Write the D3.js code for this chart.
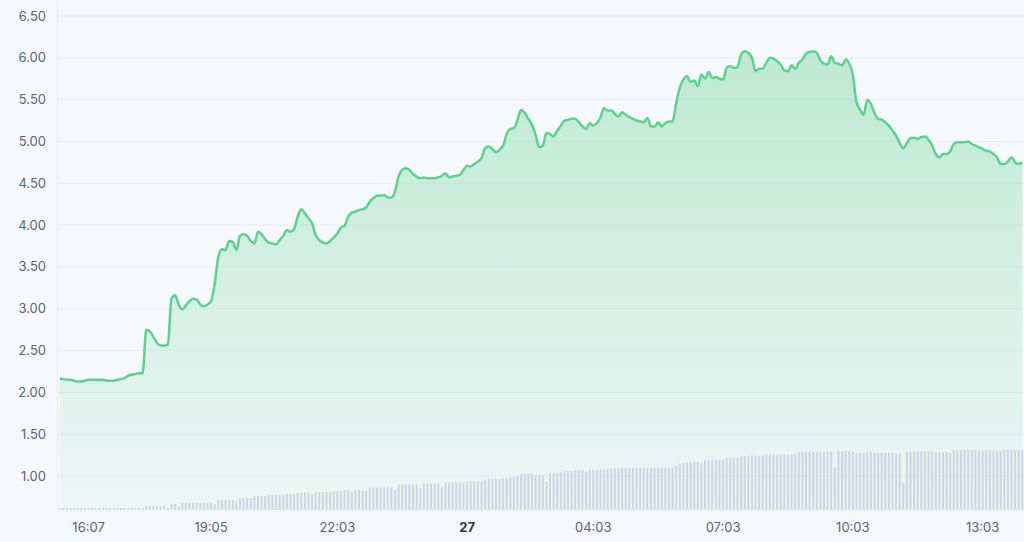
<!DOCTYPE html>
<html>
<head>
<meta charset="utf-8">
<script src="https://cdn.jsdelivr.net/npm/d3@7"></script>
<style>
  html, body { margin: 0; padding: 0; background: #f5f8fc; }
  svg { display: block; font-family: Inter, "Noto Sans", sans-serif; }
</style>
</head>
<body>
<svg id="chart" width="1024" height="542"></svg>
<script>
// ---------- DATA ----------
const yTicks = [1.0, 1.5, 2.0, 2.5, 3.0, 3.5, 4.0, 4.5, 5.0, 5.5, 6.0, 6.5];
const xTickIndex = [8, 42, 77, 113, 148, 184, 220, 256];
const xTickLabels = ["16:07", "19:05", "22:03", "27", "04:03", "07:03", "10:03", "13:03"];
const xTickBold = [false, false, false, true, false, false, false, false];

const price = [
  2.16,2.16,2.15,2.15,2.14,2.13,2.13,2.14,2.15,2.15,
  2.15,2.15,2.15,2.14,2.14,2.14,2.15,2.16,2.17,2.20,
  2.21,2.22,2.23,2.23,2.75,2.73,2.66,2.59,2.56,2.56,
  2.57,3.12,3.16,3.05,2.99,3.04,3.09,3.12,3.11,3.05,
  3.03,3.05,3.09,3.30,3.62,3.71,3.70,3.81,3.80,3.70,
  3.87,3.89,3.87,3.81,3.78,3.92,3.89,3.83,3.79,3.78,
  3.77,3.82,3.87,3.94,3.92,3.95,4.10,4.19,4.14,4.08,
  4.02,3.88,3.82,3.79,3.78,3.81,3.85,3.90,3.97,3.99,
  4.10,4.15,4.16,4.18,4.19,4.21,4.28,4.32,4.35,4.35,
  4.36,4.33,4.33,4.40,4.58,4.66,4.68,4.66,4.61,4.58,
  4.56,4.57,4.56,4.56,4.56,4.57,4.59,4.62,4.57,4.58,
  4.59,4.60,4.66,4.71,4.70,4.73,4.76,4.80,4.92,4.94,
  4.91,4.87,4.90,4.95,5.09,5.15,5.16,5.26,5.38,5.34,
  5.27,5.20,5.08,4.93,4.95,5.10,5.09,5.06,5.13,5.19,
  5.25,5.26,5.27,5.27,5.23,5.18,5.15,5.22,5.19,5.22,
  5.29,5.40,5.37,5.37,5.33,5.30,5.35,5.32,5.29,5.27,
  5.25,5.24,5.23,5.28,5.18,5.18,5.23,5.18,5.22,5.24,
  5.24,5.46,5.64,5.74,5.78,5.71,5.73,5.66,5.80,5.75,
  5.83,5.76,5.77,5.75,5.74,5.88,5.90,5.88,5.89,6.04,
  6.08,6.06,6.00,5.84,5.87,5.87,5.94,6.00,5.99,5.96,
  5.92,5.85,5.84,5.91,5.87,5.94,5.98,6.05,6.07,6.08,
  6.06,5.97,5.93,5.92,6.02,5.94,5.93,5.91,5.98,5.93,
  5.80,5.47,5.38,5.32,5.50,5.45,5.34,5.27,5.26,5.23,
  5.19,5.13,5.07,4.98,4.92,4.98,5.04,5.04,5.03,5.05,
  5.06,5.02,4.95,4.85,4.81,4.85,4.85,4.88,4.97,4.99,
  4.99,4.99,5.00,4.97,4.95,4.93,4.91,4.89,4.88,4.85,
  4.81,4.73,4.73,4.76,4.81,4.75,4.73,4.75
];

const volume = [
  2,2,2,2,2,2,2,2,2,2,
  2,2,2,2,2,2,2,2,2,2,
  2,2,2,2,4,4,4,4,4,4,
  2,6,6,3,7,7,7,7,7,7,
  7,7,7,6,10,10,10,10,10,9,
  12,12,12,12,14,14,14,14,15,15,
  15,15,15,16,16,16,17,17.5,17.5,17.5,
  16,18,18,18,18,18,19,19,19.5,20,
  20,18,20,20,19.5,19,22.5,22.5,22.5,22.5,
  22.5,22.5,22.5,20,25.5,25.5,25.5,25.5,25.5,25.5,
  22,26.3,26.3,26.3,26.3,26.3,23,27.7,27.7,27.7,
  27.7,27.7,27.7,28.5,29,29,29,29,30.5,31,
  31,31,31,31.5,31.5,33,33,34,36,36,
  36,36,35,35,35,28,37,36.5,37,37.5,
  38.5,39,39,40,40,40,38.5,40,40,40,
  40.5,40.5,41.5,41.5,41.5,41.5,42,42,42,42,
  42,42,42,42,42,42,42,42,42,42,
  42,44.5,46.5,46.5,47,48,48,48.5,47,49.5,
  49.5,50,50,50,50,52,52,52,52,53.5,
  54,54,54.5,54.5,54,54.5,55.5,55.5,55.5,55.5,
  55.5,55.5,55.5,55.5,55.5,58,58,58,58,58,
  58,58,58,58,58.5,43,59,59,59.5,59,
  58.5,56.5,57,56.5,58.5,58.5,57,57,57,57,
  57,57,56.5,56.5,27,58,58.5,58.5,58,58.5,
  59,58.5,58.5,57.5,57.5,58,58,57,60,60,
  60,60,60.5,60,60,60,59.5,60,60,60,
  59.5,59.5,60,60,60.5,60,60,60
];

// ---------- CHART ----------
const W = 1024, H = 542;
const plot = { left: 58, right: 1024, top: 0, bottom: 510 };
const svg = d3.select("#chart");

svg.append("rect").attr("width", W).attr("height", H).attr("fill", "#f5f8fc");

const idx = d3.range(price.length);
const x = d3.scaleBand().domain(idx).range([plot.left, plot.right]).paddingInner(0.45).paddingOuter(0.2);
const cx = i => x(i) + x.bandwidth() / 2;
const y = d3.scaleLinear().domain([1, 6.5]).range([476, 16]);
const yVol = d3.scaleLinear().domain([0, 60]).range([plot.bottom, 450]);

// grid lines
const grid = svg.append("g");
grid.selectAll("line.h").data(yTicks).join("line")
  .attr("x1", plot.left).attr("x2", plot.right)
  .attr("y1", d => y(d)).attr("y2", d => y(d))
  .attr("stroke", "#e9edf3").attr("stroke-width", 1);
grid.append("line")
  .attr("x1", plot.left - 0.5).attr("x2", plot.left - 0.5)
  .attr("y1", plot.top).attr("y2", plot.bottom)
  .attr("stroke", "#e9edf3");

// gradient for area
const defs = svg.append("defs");
const grad = defs.append("linearGradient").attr("id", "areaGrad")
  .attr("gradientUnits", "userSpaceOnUse")
  .attr("x1", 0).attr("x2", 0).attr("y1", y(6.1)).attr("y2", plot.bottom);
grad.append("stop").attr("offset", "0%").attr("stop-color", "#5ccf88").attr("stop-opacity", 0.36);
grad.append("stop").attr("offset", "100%").attr("stop-color", "#5ccf88").attr("stop-opacity", 0.05);

const area = d3.area()
  .x((d, i) => cx(i))
  .y0(plot.bottom)
  .y1(d => y(d))
  .curve(d3.curveMonotoneX);
svg.append("path").datum(price).attr("d", area).attr("fill", "url(#areaGrad)");

// volume bars
svg.append("g").selectAll("rect").data(volume).join("rect")
  .attr("x", (d, i) => x(i))
  .attr("width", x.bandwidth())
  .attr("y", d => yVol(d))
  .attr("height", d => plot.bottom - yVol(d))
  .attr("fill", "#cdd5e2");

// line
const line = d3.line()
  .x((d, i) => cx(i))
  .y(d => y(d))
  .curve(d3.curveMonotoneX);
svg.append("path").datum(price).attr("d", line)
  .attr("fill", "none").attr("stroke", "#5dd28b")
  .attr("stroke-width", 2.5).attr("stroke-linejoin", "round");

// y axis labels
svg.append("g").selectAll("text").data(yTicks).join("text")
  .attr("x", 46).attr("y", d => y(d))
  .attr("dy", "0.35em")
  .attr("text-anchor", "end")
  .attr("font-size", 13)
  .attr("fill", "#5b6477")
  .text(d => d.toFixed(2));

// x axis labels
svg.append("g").selectAll("text").data(xTickIndex).join("text")
  .attr("x", d => cx(d)).attr("y", 527)
  .attr("dy", "0.35em")
  .attr("text-anchor", "middle")
  .attr("font-size", 13)
  .attr("font-weight", (d, i) => xTickBold[i] ? 700 : 400)
  .attr("fill", (d, i) => xTickBold[i] ? "#2f3747" : "#5b6477")
  .text((d, i) => xTickLabels[i]);
</script>
</body>
</html>
